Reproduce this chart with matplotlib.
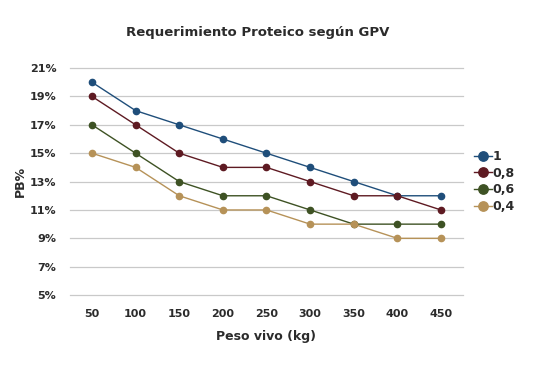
import matplotlib

matplotlib.use("Agg")
import matplotlib.pyplot as plt

PESO = ["50", "100", "150", "200", "250", "300", "350", "400", "450"]
GPV_1 = [20, 18, 17, 16, 15, 14, 13, 12, 12]
GPV_08 = [19, 17, 15, 14, 14, 13, 12, 12, 11]
GPV_06 = [17, 15, 13, 12, 12, 11, 10, 10, 10]
GPV_04 = [15, 14, 12, 11, 11, 10, 10, 9, 9]
Y_TICKS = [5, 7, 9, 11, 13, 15, 17, 19, 21]

SERIES = [("1", GPV_1, "#1F4E7A"),
          ("0,8", GPV_08, "#5E1A22"),
          ("0,6", GPV_06, "#3E5224"),
          ("0,4", GPV_04, "#B69258")]
INK = "#2B2B2B"

plt.rcParams["font.family"] = ["DejaVu Sans"]

fig = plt.figure(figsize=(5.4, 3.74), dpi=100)
ax = fig.add_axes([0.130, 0.211, 0.727, 0.607])

xs = list(range(len(PESO)))
for label, vals, col in SERIES:
    ax.plot(xs, vals, "-", color=col, lw=1.0, marker="o", ms=4.5, label=label)

ax.set_xlim(-0.5, len(PESO) - 0.5)
ax.set_ylim(5, 21)
ax.set_yticks(Y_TICKS)
ax.set_yticklabels([f"{v}%" for v in Y_TICKS])
ax.set_xticks(xs)
ax.set_xticklabels(PESO)
ax.yaxis.grid(True, color="#C9C9C9", lw=0.9)
for gl in ax.get_ygridlines():
    gl.set_clip_on(False)
ax.set_axisbelow(True)
for side in ("top", "right", "left", "bottom"):
    ax.spines[side].set_visible(False)
ax.tick_params(length=0, labelsize=8, colors=INK, pad=10)
for t in ax.get_xticklabels() + ax.get_yticklabels():
    t.set_fontweight("bold")

ax.set_xlabel("Peso vivo (kg)", fontsize=9, fontweight="bold", color=INK, labelpad=8)
ax.set_ylabel("PB%", fontsize=9, fontweight="bold", color=INK, labelpad=2)
fig.text(0.478, 0.912, "Requerimiento Proteico según GPV", ha="center", va="center",
         fontsize=9.5, fontweight="bold", color=INK)

leg = ax.legend(loc="center left", bbox_to_anchor=(1.0, 0.5), frameon=False,
                handlelength=1.4, handletextpad=0.1, labelspacing=0.3,
                markerscale=1.5, prop={"weight": "bold", "size": 9})
for t in leg.get_texts():
    t.set_color(INK)

fig.savefig("out.png", dpi=100)
